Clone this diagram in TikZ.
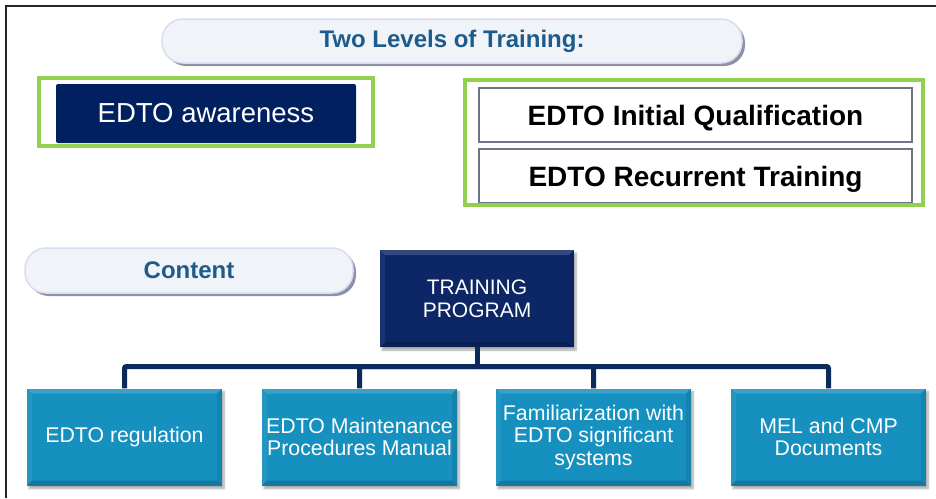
\documentclass[tikz,border=0pt]{standalone}
\usepackage{fontspec}
\setmainfont{Liberation Sans}
\usetikzlibrary{shadows,shadows.blur}
\definecolor{navy}{HTML}{002060}
\definecolor{tpnavy}{HTML}{0C2666}
\definecolor{tealbox}{HTML}{1690BE}
\definecolor{conncol}{HTML}{0B2A5C}
\definecolor{lgreen}{HTML}{92D050}
\definecolor{pilltext}{HTML}{1C5B8B}
\definecolor{pillfill}{HTML}{F0F3F8}
\definecolor{pilledge}{HTML}{D9DCF2}
\definecolor{pillshadow}{HTML}{8E90A5}
\definecolor{greyedge}{HTML}{6D7486}
\begin{document}
\begin{tikzpicture}[x=1pt,y=-1pt,
  pill/.style={rounded corners=21pt, fill=pillfill, draw=pilledge, line width=1.5pt,
    text=pilltext, font=\bfseries\fontsize{24}{28}\selectfont,
    drop shadow={shadow xshift=3pt, shadow yshift=-3pt, fill=pillshadow, opacity=1}},
  greenframe/.style={draw=lgreen, line width=4pt},
  whitebox/.style={draw=greyedge, line width=1.4pt, fill=white, minimum width=433pt,
    minimum height=54pt, inner sep=0pt, text depth=0pt, font=\bfseries\fontsize{28}{33}\selectfont},
  bevel/.style={path picture={
    \fill[white,opacity=0.16] (path picture bounding box.north west) -- (path picture bounding box.north east)
      -- ([xshift=-5pt,yshift=-5pt]path picture bounding box.north east) -- ([xshift=5pt,yshift=-5pt]path picture bounding box.north west) -- cycle;
    \fill[black,opacity=0.16] (path picture bounding box.south west) -- (path picture bounding box.south east)
      -- ([xshift=-5pt,yshift=5pt]path picture bounding box.south east) -- ([xshift=5pt,yshift=5pt]path picture bounding box.south west) -- cycle;
    \fill[black,opacity=0.08] (path picture bounding box.north east) -- (path picture bounding box.south east)
      -- ([xshift=-5pt,yshift=5pt]path picture bounding box.south east) -- ([xshift=-5pt,yshift=-5pt]path picture bounding box.north east) -- cycle;
    \fill[white,opacity=0.06] (path picture bounding box.north west) -- (path picture bounding box.south west)
      -- ([xshift=5pt,yshift=5pt]path picture bounding box.south west) -- ([xshift=5pt,yshift=-5pt]path picture bounding box.north west) -- cycle;
  }},
  contentbox/.style={fill=tealbox, bevel, text=white, align=center, inner sep=0pt,
    minimum width=195pt, minimum height=97pt, font=\fontsize{21.3}{22.5}\selectfont,
    blur shadow={shadow xshift=2pt, shadow yshift=-3pt, shadow opacity=35, shadow blur steps=6}},
  conn/.style={draw=conncol, line width=5pt, rounded corners=2pt}
]
\useasboundingbox (0,0) rectangle (936,498);
% frame
\draw[line width=2.2pt, black!85] (6,498) -- (6,6) -- (936,6);

% header pills
\node[pill, minimum width=580pt, minimum height=44pt, inner sep=0pt] (levels) at (452,41) {Two Levels of Training:};
\node[pill, minimum width=328pt, minimum height=45pt, inner sep=0pt] (content) at (189,270.5) {Content};

% EDTO awareness
\draw[greenframe] (39,78) rectangle (373,146);
\node[fill=navy, rounded corners=2pt, minimum width=300pt, minimum height=59pt, inner sep=0pt,
  text=white, font=\fontsize{27.5}{32}\selectfont] (aware) at (206,113.5) {EDTO awareness};

% right group
\node[whitebox] (initq) at (695.5,115) {EDTO Initial Qualification};
\node[whitebox] (recur) at (695.5,176) {EDTO Recurrent Training};
\draw[greenframe] (465,80) rectangle (923,205);

% training program
\node[fill=tpnavy, bevel, text=white, align=center, inner sep=0pt,
  minimum width=194pt, minimum height=97pt, font=\fontsize{21}{23}\selectfont,
  blur shadow={shadow xshift=2pt, shadow yshift=-3pt, shadow opacity=35, shadow blur steps=6}]
  (tp) at (477,298.5) {TRAINING\\PROGRAM};

% content boxes
\node[contentbox] (b1) at (124.5,437) {EDTO regulation};
\node[contentbox] (b2) at (359.5,437) {EDTO Maintenance\\Procedures Manual};
\node[contentbox] (b3) at (593.5,437) {Familiarization with\\EDTO significant\\systems};
\node[contentbox] (b4) at (828.5,437) {MEL and CMP\\Documents};

% connectors
\coordinate (hub) at (477,366.5);
\draw[conn] (tp.south) -- (hub);
\draw[conn] (hub) -| (b1.north);
\draw[conn] (hub) -| (b2.north);
\draw[conn] (hub) -| (b3.north);
\draw[conn] (hub) -| (b4.north);
\end{tikzpicture}
\end{document}
